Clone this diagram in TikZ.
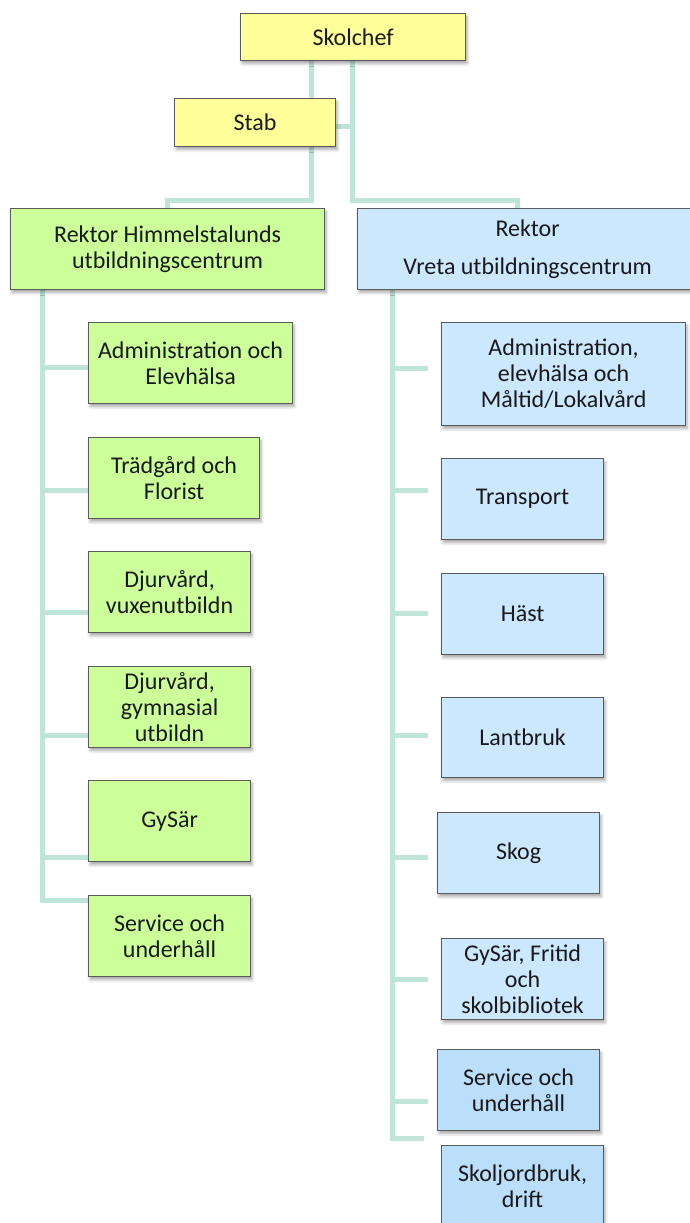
\documentclass[tikz,border=0pt]{standalone}
\usepackage{fontspec}
\setmainfont{Carlito}
\usetikzlibrary{shadows.blur,backgrounds}
\definecolor{yel}{HTML}{FFFF99}
\definecolor{grn}{HTML}{CCFF99}
\definecolor{blu}{HTML}{CCE8FF}
\definecolor{bluD}{HTML}{BBDEFB}
\definecolor{bord}{HTML}{5A5A5A}
\definecolor{connc}{HTML}{BFE4D8}
\newcommand\boxfont{\fontsize{24}{26}\selectfont}
\tikzset{
  box/.style={draw=bord, line width=1.2pt, inner sep=0pt, align=center,
    anchor=north west, font=\boxfont, text=black!90,
    blur shadow={shadow xshift=1.5pt, shadow yshift=-3pt, shadow blur radius=3pt, shadow opacity=35}},
  conn/.style={draw=connc, line width=5pt, line join=miter}
}
\begin{document}
\begin{tikzpicture}[x=1pt,y=-1pt]
\useasboundingbox (0,0) rectangle (689,1223);
% top
\node[box, fill=yel, minimum width=225pt, minimum height=47pt] (skol) at (240,13) {Skolchef};
\node[box, fill=yel, minimum width=161pt, minimum height=48pt] (stab) at (174,98) {Stab};
\node[box, fill=grn, minimum width=314pt, minimum height=81pt] (rh) at (10,208) {Rektor Himmelstalunds\\utbildningscentrum};
\node[box, fill=blu, minimum width=340pt, minimum height=81pt] (rv) at (357,208) {Rektor\\[12pt]Vreta utbildningscentrum};
% left column
\node[box, fill=grn, minimum width=204pt, minimum height=81pt] (l1) at (88,322) {Administration och\\Elevhälsa};
\node[box, fill=grn, minimum width=171pt, minimum height=81pt] (l2) at (88,437) {Trädgård och\\Florist};
\node[box, fill=grn, minimum width=162pt, minimum height=81pt] (l3) at (88,551) {Djurvård,\\vuxenutbildn};
\node[box, fill=grn, minimum width=162pt, minimum height=81pt] (l4) at (88,666) {Djurvård,\\gymnasial\\utbildn};
\node[box, fill=grn, minimum width=162pt, minimum height=81pt] (l5) at (88,780) {GySär};
\node[box, fill=grn, minimum width=162pt, minimum height=81pt] (l6) at (88,895) {Service och\\underhåll};
% right column
\node[box, fill=blu, minimum width=244pt, minimum height=103pt] (r1) at (441,322) {Administration,\\elevhälsa och\\Måltid/Lokalvård};
\node[box, fill=blu, minimum width=162pt, minimum height=81pt] (r2) at (441,458) {Transport};
\node[box, fill=blu, minimum width=162pt, minimum height=81pt] (r3) at (441,573) {Häst};
\node[box, fill=blu, minimum width=162pt, minimum height=80pt] (r4) at (441,697) {Lantbruk};
\node[box, fill=blu, minimum width=162pt, minimum height=81pt] (r5) at (437,812) {Skog};
\node[box, fill=blu, minimum width=162pt, minimum height=81pt] (r6) at (441,938) {GySär, Fritid\\och\\skolbibliotek};
\node[box, fill=bluD, minimum width=162pt, minimum height=81pt] (r7) at (437,1049) {Service och\\underhåll};
\node[box, fill=bluD, minimum width=162pt, minimum height=81pt] (r8) at (441,1145) {Skoljordbruk,\\drift};
% connectors
\begin{scope}[on background layer]
\coordinate (tl) at (311,200);
\coordinate (tr) at (352,200);
\coordinate (hl) at (167,200);
\coordinate (vr) at (517,200);
\draw[conn] (skol.south -| tl) -- (stab.north -| tl);
\draw[conn] (stab.south -| tl) -- (tl) -- (hl) -- (rh.north -| hl);
\draw[conn] (skol.south -| tr) -- (tr) -- (vr) -- (rv.north -| vr);
\coordinate (sj) at (352,126);
\draw[conn] (stab.east |- sj) -- (sj);
% left spine
\coordinate (lsp) at (42,900);
\draw[conn] (rh.south -| lsp) -- (lsp) -- (l6.west |- lsp);
\foreach \n/\yy in {l1/367,l2/490,l3/612,l4/735,l5/857}{
  \coordinate (c\n) at (42,\yy);
  \draw[conn] (c\n) -- (\n.west |- c\n);
}
% right spine
\coordinate (rsp) at (392,1138);
\coordinate (r8e) at (424,1138);
\draw[conn] (rv.south -| rsp) -- (rsp) -- (r8e);
\foreach \n/\yy in {r1/368,r2/490,r3/613,r4/735,r5/857,r6/979,r7/1101}{
  \coordinate (c\n) at (392,\yy);
  \coordinate (e\n) at (428,\yy);
  \draw[conn] (c\n) -- (e\n);
}
\end{scope}
\end{tikzpicture}
\end{document}
